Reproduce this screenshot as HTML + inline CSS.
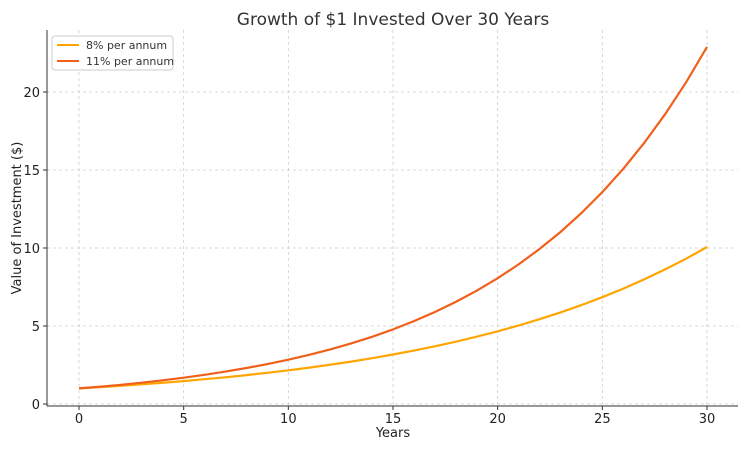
<!DOCTYPE html>
<html><head><meta charset="utf-8"><style>
body{margin:0;background:#fff;font-family:"Liberation Sans","DejaVu Sans",sans-serif}
</style></head><body>
<svg width="750" height="450" xmlns="http://www.w3.org/2000/svg" font-family="DejaVu Sans, Liberation Sans, sans-serif">
<text x="393" y="25" text-anchor="middle" font-size="17" fill="#333">Growth of $1 Invested Over 30 Years</text>
<g id="grid"></g>
<g id="axes"></g>
<g id="series"></g>
<text x="393" y="437" text-anchor="middle" font-size="13" fill="#222">Years</text>
<text transform="translate(21,218) rotate(-90)" text-anchor="middle" font-size="13" fill="#222">Value of Investment ($)</text>
<g>
<rect x="52" y="36" width="121" height="34" rx="3" fill="#fff" stroke="#ccc"/>
<line x1="57" y1="45" x2="79" y2="45" stroke="#FFA500" stroke-width="2"/>
<text x="86" y="49" font-size="11" fill="#333">8% per annum</text>
<line x1="57" y1="61" x2="79" y2="61" stroke="#F0601A" stroke-width="2"/>
<text x="86" y="65" font-size="11" fill="#333">11% per annum</text>
</g>
</svg>
<script>
const years=[0,1,2,3,4,5,6,7,8,9,10,11,12,13,14,15,16,17,18,19,20,21,22,23,24,25,26,27,28,29,30];
const series8=[1,1.08,1.166,1.26,1.36,1.469,1.587,1.714,1.851,1.999,2.159,2.332,2.518,2.72,2.937,3.172,3.426,3.7,3.996,4.316,4.661,5.034,5.437,5.871,6.341,6.848,7.396,7.988,8.627,9.317,10.063];
const series11=[1,1.11,1.232,1.368,1.518,1.685,1.87,2.076,2.305,2.558,2.839,3.152,3.498,3.883,4.31,4.785,5.311,5.895,6.544,7.263,8.062,8.949,9.934,11.026,12.239,13.585,15.08,16.739,18.58,20.624,22.892];
const xTicks=[0,5,10,15,20,25,30];
const yTicks=[0,5,10,15,20];
const NS="http://www.w3.org/2000/svg";
const X=v=>79+v*(707-79)/30;
const Y=v=>404-v*(404-92)/20;
const L=47,R=738,T=30,B=406;
function mk(tag,attrs,parent){const e=document.createElementNS(NS,tag);for(const k in attrs)e.setAttribute(k,attrs[k]);parent.appendChild(e);return e;}
const grid=document.getElementById('grid'),axes=document.getElementById('axes'),ser=document.getElementById('series');
xTicks.forEach(t=>{
const g=mk('line',{x1:X(t),x2:X(t),y1:T,y2:B,stroke:'#ccc','stroke-dasharray':'3,3','stroke-width':0.8},grid);


const tk=mk('line',{x1:X(t),x2:X(t),y1:B,y2:B+4,stroke:'#333'},axes);


const tx=mk('text',{x:X(t),y:B+17,'text-anchor':'middle','font-size':13,fill:'#222'},axes);
tx.textContent=t;


});
yTicks.forEach(t=>{
const g=mk('line',{x1:L,x2:R,y1:Y(t),y2:Y(t),stroke:'#ccc','stroke-dasharray':'3,3','stroke-width':0.8},grid);


const tk=mk('line',{x1:L-4,x2:L,y1:Y(t),y2:Y(t),stroke:'#333'},axes);


const tx=mk('text',{x:L-7,y:Y(t)+5,'text-anchor':'end','font-size':13,fill:'#222'},axes);
tx.textContent=t;


});
const sl=mk('line',{x1:L,x2:L,y1:T,y2:B,stroke:'#333'},axes);


const sb=mk('line',{x1:L,x2:R,y1:B,y2:B,stroke:'#333'},axes);


function line(vals,color,name){
const d=vals.map((v,i)=>(i?'L':'M')+X(years[i]).toFixed(1)+','+Y(v).toFixed(1)).join('');
const p=mk('path',{d:d,fill:'none',stroke:color,'stroke-width':2.2},ser);


}
line(series8,'#FFA500','line-8-percent');
line(series11,'#F0601A','line-11-percent');
</script>
</body></html>
